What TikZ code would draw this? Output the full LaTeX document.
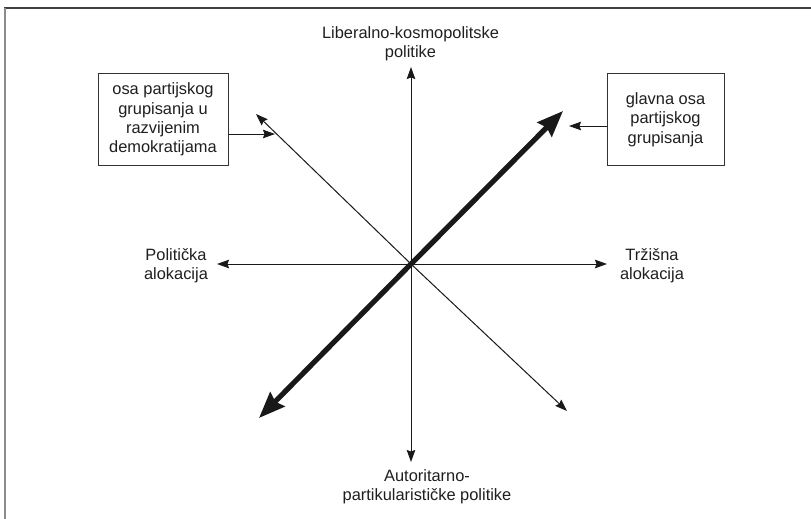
\documentclass[tikz,border=0pt]{standalone}
\usepackage{fontspec}
\setmainfont{Liberation Sans}
\usetikzlibrary{arrows.meta}
\begin{document}
\begin{tikzpicture}[x=1pt,y=-1pt,
  lbl/.style={align=center,font=\fontsize{16.4}{19.4}\selectfont,text=black!88,inner sep=0pt},
  boxnode/.style={draw=black!80,line width=1pt,align=center,font=\fontsize{16.4}{19.4}\selectfont,text=black!88,inner sep=0pt},
  thin/.style={line width=1pt,draw=black!90,-{Stealth[length=12pt,width=8.5pt,inset=1.5pt]}},
  thick/.style={line width=5.2pt,draw=black!90,-{Stealth[length=26pt,width=20pt,inset=3pt]}},
  ptr/.style={line width=1pt,draw=black!90,-{Stealth[length=12pt,width=8.5pt,inset=1.5pt]}}]
\useasboundingbox (0,0) rectangle (811,519);
\fill[white] (0,0) rectangle (811,519);
% frame
\draw[black!75,line width=1.6pt] (4,8.3) -- (812,8.3);
\draw[black!45,line width=2.2pt] (5.2,8) -- (5.2,520);
% centre and ends
\coordinate (O) at (411,264);
\coordinate (N) at (411,67);
\coordinate (S) at (411,462);
\coordinate (W) at (217,264);
\coordinate (E) at (607,264);
\coordinate (NW) at (256,114);
\coordinate (SE) at (567,411);
\coordinate (NE) at (563,111);
\coordinate (SW) at (259,418);
% labels
\node[lbl] (top) at (410.5,44) {Liberalno-kosmopolitske\\politike};
\node[lbl] (bot) at (427,487) {Autoritarno-\\partikularističke politike};
\node[lbl] (lft) at (176,266) {Politička\\alokacija};
\node[lbl] (rgt) at (652,266) {Tržišna\\alokacija};
\node[boxnode,minimum width=130pt,minimum height=91pt] (lbox) at (163,119.5) {osa partijskog\\grupisanja u\\razvijenim\\demokratijama};
\node[boxnode,minimum width=117pt,minimum height=91pt] (rbox) at (665.5,119.5) {glavna osa\\partijskog\\grupisanja};
% axes
\draw[thin] (O) -- (N);
\draw[thin] (O) -- (S);
\draw[thin] (O) -- (W);
\draw[thin] (O) -- (E);
\draw[thin] (O) -- (NW);
\draw[thin] (O) -- (SE);
\draw[thick] (O) -- (NE);
\draw[thick] (O) -- (SW);
% pointers
\coordinate (la) at (275,134);
\coordinate (ra) at (569,126);
\draw[ptr] (la -| lbox.east) -- (la);
\draw[ptr] (ra -| rbox.west) -- (ra);
\end{tikzpicture}
\end{document}
